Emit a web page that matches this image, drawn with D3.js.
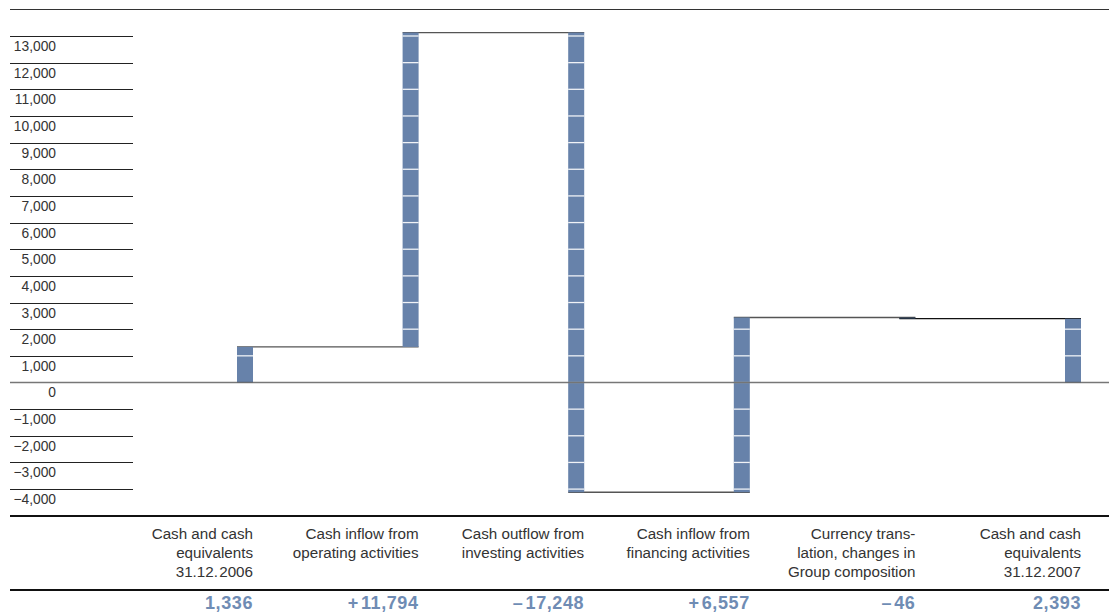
<!DOCTYPE html>
<html><head><meta charset="utf-8">
<script src="https://cdn.jsdelivr.net/npm/d3@7"></script>
<style>body{margin:0;background:#fff;}svg{display:block;font-family:"Liberation Sans",Arial,sans-serif;}</style>
</head><body>
<svg id="c" width="1109" height="613"></svg>
<script>
const categories = [
  ["Cash and cash","equivalents","31.12.\u200A2006"],
  ["Cash inflow from","operating activities"],
  ["Cash outflow from","investing activities"],
  ["Cash inflow from","financing activities"],
  ["Currency trans-","lation, changes in","Group composition"],
  ["Cash and cash","equivalents","31.12.\u200A2007"]
];
const values = [1336, 11794, -17248, 6557, -46, 2393];
const valueLabels = ["1,336","+\u200A11,794","\u2013\u200A17,248","+\u200A6,557","\u2013\u200A46","2,393"];
const isTotal = [true,false,false,false,false,true];
const yTicks = [13000,12000,11000,10000,9000,8000,7000,6000,5000,4000,3000,2000,1000,0,-1000,-2000,-3000,-4000];

const svg = d3.select("#c");
const W = 1109;
const y = d3.scaleLinear().domain([-4000,13000]).range([489.1,36]);
const x = d3.scalePoint().domain(d3.range(categories.length)).range([245,1073]);
const bw = 16;
const barColor = "#6782aa";
const valColor = "#6f8cb4";

let run = 0;
const bars = values.map((v,i)=>{
  let a,b;
  if(isTotal[i]){a=0;b=v;run=v;}
  else{a=run;b=run+v;run=b;}
  return {i,lo:Math.min(a,b),hi:Math.max(a,b),end:b,start:a};
});

svg.append("line").attr("x1",10).attr("x2",W).attr("y1",9.5).attr("y2",9.5).attr("stroke","#333").attr("stroke-width",1.2);

yTicks.forEach(t=>{
  if(t!==0){
    svg.append("line").attr("x1",10).attr("x2",133).attr("y1",Math.round(y(t))+0.5).attr("y2",Math.round(y(t))+0.5)
      .attr("stroke","#222").attr("stroke-width",1);
  }
  svg.append("text").attr("x",56).attr("y",y(t)+15).attr("text-anchor","end")
    .attr("font-size",13.8).attr("fill","#333")
    .text(t<0 ? "\u2212"+d3.format(",")(-t) : d3.format(",")(t));
});

for(let i=0;i<bars.length-1;i++){
  const yy = y(bars[i].end);
  svg.append("line").attr("x1",x(i)-bw/2).attr("x2",x(i+1)+bw/2).attr("y1",yy).attr("y2",yy)
    .attr("stroke", i===4 ? "#111" : "#555").attr("stroke-width",1.3);
}

bars.forEach(b=>{
  const g = svg.append("g");
  const h = Math.max(1.3, y(b.lo)-y(b.hi));
  g.append("rect").attr("x",x(b.i)-bw/2).attr("y",y(b.hi)).attr("width",bw).attr("height",h)
    .attr("fill", h<3 ? "#2c3e55" : barColor);
  for(let t=Math.ceil(b.lo/1000)*1000; t<=b.hi; t+=1000){
    if(t<=b.lo || t>=b.hi) continue;
    g.append("line").attr("x1",x(b.i)-bw/2).attr("x2",x(b.i)+bw/2).attr("y1",y(t)).attr("y2",y(t))
      .attr("stroke","#fff").attr("stroke-width",1.3).attr("opacity",0.9);
  }
});

svg.append("line").attr("x1",10).attr("x2",W).attr("y1",y(0)).attr("y2",y(0))
  .attr("stroke","#555").attr("stroke-opacity",0.8).attr("stroke-width",1.5);

svg.append("line").attr("x1",10).attr("x2",W).attr("y1",516).attr("y2",516).attr("stroke","#111").attr("stroke-width",2);
svg.append("line").attr("x1",10).attr("x2",W).attr("y1",590).attr("y2",590).attr("stroke","#111").attr("stroke-width",2);

categories.forEach((lines,i)=>{
  const t = svg.append("text").attr("text-anchor","end").attr("font-size",15.2).attr("fill","#333");
  lines.forEach((l,k)=>{
    t.append("tspan").attr("x",x(i)+bw/2).attr("y",539+k*19).text(l);
  });
  svg.append("text").attr("x",x(i)+bw/2).attr("y",609).attr("text-anchor","end")
    .attr("font-size",18).attr("font-weight","bold").attr("letter-spacing",0.6).attr("fill",valColor).text(valueLabels[i]);
});
</script>
</body></html>
